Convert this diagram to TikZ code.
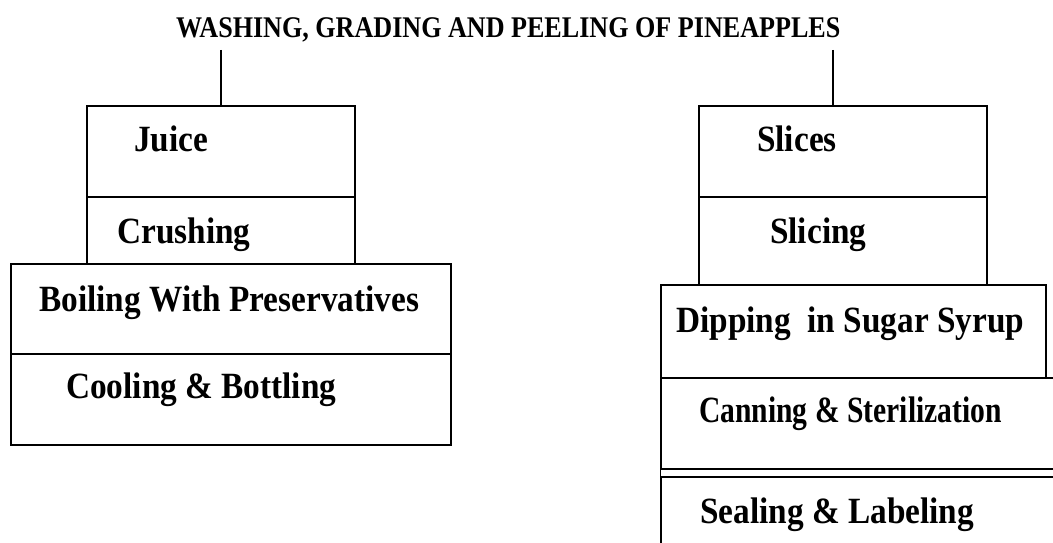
\documentclass[tikz,border=0pt]{standalone}
\usepackage{fontspec}
\setmainfont{Liberation Serif}
\newfontfamily\stagefont[FakeStretch=0.9]{Liberation Serif}
\newfontfamily\narrowfont[FakeStretch=0.8]{Liberation Serif}
\newfontfamily\headfont[FakeStretch=0.87]{Liberation Serif}
\usetikzlibrary{fit}

\begin{document}
\begin{tikzpicture}[
    x=1pt, y=-1pt,
    stepbox/.style={draw, rectangle, inner sep=0pt, line width=1.3pt},
    steptext/.style={anchor=base west, inner sep=0pt,
      font=\stagefont\bfseries\fontsize{37}{40}\selectfont},
    headtext/.style={anchor=base west, inner sep=0pt,
      font=\headfont\bfseries\fontsize{30}{32}\selectfont},
    link/.style={line width=1.3pt}
]
\useasboundingbox (0,0) rectangle (1053,543);

% title
\node[headtext] (title) at (176,38) {WASHING, GRADING AND PEELING OF PINEAPPLES};
\coordinate (juicetop) at (221,50);
\coordinate (slicestop) at (833,50);

% juice line
\node[stepbox, fit={(87,106) (355,197)}] (juice) {};
\node[stepbox, fit={(87,197) (355,264)}] (crushing) {};
\node[stepbox, fit={(11,264) (451,354)}] (boiling) {};
\node[stepbox, line width=1.8pt, fit={(11,354) (451,445)}] (cooling) {};
\node[steptext] (juicetxt) at (134,151) {Juice};
\node[steptext] (crushingtxt) at (117,243) {Crushing};
\node[steptext] (boilingtxt) at (39,311) {Boiling With Preservatives};
\node[steptext] (coolingtxt) at (66,398) {Cooling \& Bottling};

% slices line
\node[stepbox, fit={(699,106) (987,197)}] (slices) {};
\node[stepbox, fit={(699,197) (987,285)}] (slicing) {};
\node[stepbox, fit={(661,285) (1046,378)}] (dipping) {};
\node[stepbox, fit={(661,378) (1080,469)}] (canning) {};
\node[stepbox, fit={(661,477) (1080,570)}] (sealing) {};
\node[steptext] (slicestxt) at (757,151) {Slices};
\node[steptext] (slicingtxt) at (770,243) {Slicing};
\node[steptext] (dippingtxt) at (676,332) {Dipping\ \ in Sugar Syrup};
\node[steptext, font=\narrowfont\bfseries\fontsize{37}{40}\selectfont] (canningtxt) at (699,422) {Canning \& Sterilization};
\node[steptext] (sealingtxt) at (700,523) {Sealing \& Labeling};

\draw[link] (juicetop) -- (juicetop |- juice.north);
\draw[link] (slicestop) -- (slicestop |- slices.north);
\draw[link] (canning.south west) -- (sealing.north west);
\end{tikzpicture}
\end{document}
